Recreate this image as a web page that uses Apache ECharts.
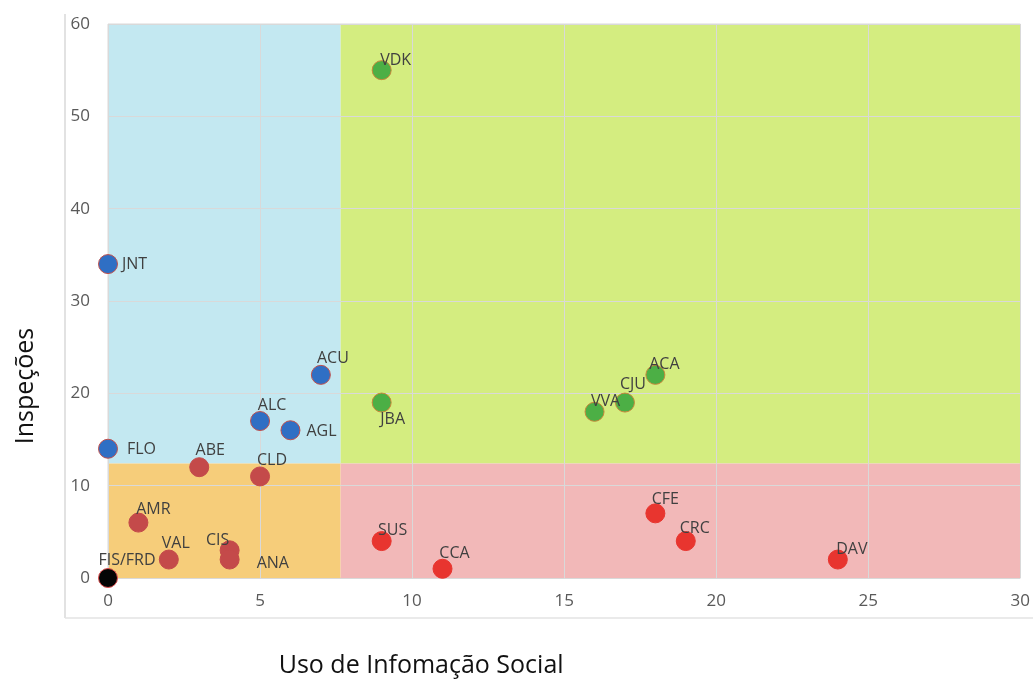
<!DOCTYPE html>
<html><head><meta charset="utf-8">
<script src="https://cdn.jsdelivr.net/npm/echarts@6/dist/echarts.min.js"></script>
<style>html,body{margin:0;padding:0;background:#fff}#c{width:1033px;height:683px}</style>
</head><body><div id="c"></div>
<script>
const xTicks = [0, 5, 10, 15, 20, 25, 30];
const yTicks = [0, 10, 20, 30, 40, 50, 60];
const xSplit = 7.65, ySplit = 12.4;

const blueNames = ['JNT', 'FLO', 'ALC', 'AGL', 'ACU'];
const blueX = [0, 0, 5, 6, 7];
const blueY = [34, 14, 17, 16, 22];

const greenNames = ['VDK', 'JBA', 'VVA', 'CJU', 'ACA'];
const greenX = [9, 9, 16, 17, 18];
const greenY = [55, 19, 18, 19, 22];

const darkRedNames = ['ABE', 'CLD', 'AMR', 'VAL', 'CIS', 'ANA'];
const darkRedX = [3, 5, 1, 2, 4, 4];
const darkRedY = [12, 11, 6, 2, 3, 2];

const redNames = ['SUS', 'CCA', 'CFE', 'CRC', 'DAV'];
const redX = [9, 11, 18, 19, 24];
const redY = [4, 1, 7, 4, 2];

const blackNames = ['FIS/FRD'];
const blackX = [0];
const blackY = [0];

// label placement (style only)
const labelStyle = {
  JNT: {position: 'right', offset: [4, 0]},
  FLO: {position: 'right', offset: [9, 1]},
  ALC: {position: 'top', offset: [12, 2]},
  AGL: {position: 'right', offset: [6, 1]},
  ACU: {position: 'top', offset: [12, 2]},
  VDK: {position: 'top', offset: [14, 8]},
  JBA: {position: 'bottom', offset: [11, -1]},
  VVA: {position: 'top', offset: [11, 8]},
  CJU: {position: 'top', offset: [8, 0]},
  ACA: {position: 'top', offset: [9, 8]},
  ABE: {position: 'top', offset: [11, 1]},
  CLD: {position: 'top', offset: [12, 2]},
  AMR: {position: 'top', offset: [15, 5]},
  VAL: {position: 'top', offset: [7, 2]},
  CIS: {position: 'top', offset: [-12, 8]},
  ANA: {position: 'right', offset: [17, 4]},
  SUS: {position: 'top', offset: [11, 7]},
  CCA: {position: 'top', offset: [12, 3]},
  CFE: {position: 'top', offset: [10, 4]},
  CRC: {position: 'top', offset: [9, 5]},
  DAV: {position: 'top', offset: [14, 8]},
  'FIS/FRD': {position: 'top', offset: [19, 0]}
};

function build(names, xs, ys) {
  return names.map((n, i) => ({
    name: n,
    value: [xs[i], ys[i]],
    label: Object.assign({show: true, formatter: n}, labelStyle[n])
  }));
}

const lbl = {fontFamily: 'Open Sans', fontSize: 16, color: '#404040', distance: 0};

function scatter(name, names, xs, ys, color, border) {
  return {
    type: 'scatter', name: name, symbolSize: 19, z: 5,
    itemStyle: {color: color, borderColor: border, borderWidth: 1, opacity: 1},
    label: lbl,
    data: build(names, xs, ys)
  };
}

const chart = echarts.init(document.getElementById('c'));
chart.setOption({
  animation: false,
  backgroundColor: '#fff',
  grid: {left: 108, right: 11, top: 24, bottom: 101, show: true, borderColor: '#d9d9d9', borderWidth: 1},
  xAxis: {
    type: 'value', min: 0, max: 30, interval: 5, z: 3,
    axisLine: {show: false}, axisTick: {show: false},
    axisLabel: {fontFamily: 'Open Sans', fontSize: 17, color: '#595959', margin: 15,
      formatter: v => xTicks.includes(v) ? String(v) : ''},
    splitLine: {show: true, lineStyle: {color: '#d9d9d9', width: 1}},
    name: 'Uso de Infomação Social', nameLocation: 'middle', nameGap: 75,
    nameTextStyle: {fontFamily: 'Open Sans', fontSize: 25, color: '#111', padding: [0, 286, 0, 0]}
  },
  yAxis: {
    type: 'value', min: 0, max: 60, interval: 10, z: 3,
    axisLine: {show: false}, axisTick: {show: false},
    axisLabel: {fontFamily: 'Open Sans', fontSize: 17, color: '#595959', margin: 18,
      formatter: v => yTicks.includes(v) ? String(v) : ''},
    splitLine: {show: true, lineStyle: {color: '#d9d9d9', width: 1}},
    name: 'Inspeções', nameLocation: 'middle', nameGap: 70,
    nameTextStyle: {fontFamily: 'Open Sans', fontSize: 25, color: '#111', padding: [0, 170, 0, 0]}
  },
  graphic: [
    {type: 'line', shape: {x1: 65, y1: 14, x2: 65, y2: 618}, style: {stroke: '#d9d9d9', lineWidth: 1.5}, z: 1},
    {type: 'line', shape: {x1: 65, y1: 618, x2: 1033, y2: 618}, style: {stroke: '#e3e3e3', lineWidth: 1.5}, z: 1}
  ],
  series: [
    {
      type: 'scatter', data: [], silent: true, z: 1,
      markArea: {
        silent: true,
        data: [
          [{xAxis: 0, yAxis: ySplit, itemStyle: {color: '#c3e8f1'}}, {xAxis: xSplit, yAxis: 60}],
          [{xAxis: xSplit, yAxis: ySplit, itemStyle: {color: '#d4ed80'}}, {xAxis: 30, yAxis: 60}],
          [{xAxis: 0, yAxis: 0, itemStyle: {color: '#f6cd7a'}}, {xAxis: xSplit, yAxis: ySplit}],
          [{xAxis: xSplit, yAxis: 0, itemStyle: {color: '#f2b8b8'}}, {xAxis: 30, yAxis: ySplit}]
        ]
      }
    },
    scatter('blue', blueNames, blueX, blueY, '#2f6fc4', '#c0504d'),
    scatter('green', greenNames, greenX, greenY, '#4caf45', '#c8873a'),
    scatter('darkred', darkRedNames, darkRedX, darkRedY, '#c44a4a', '#c44a4a'),
    scatter('red', redNames, redX, redY, '#e8352f', '#e8352f'),
    scatter('black', blackNames, blackX, blackY, '#050505', '#e05050')
  ]
});
</script></body></html>
